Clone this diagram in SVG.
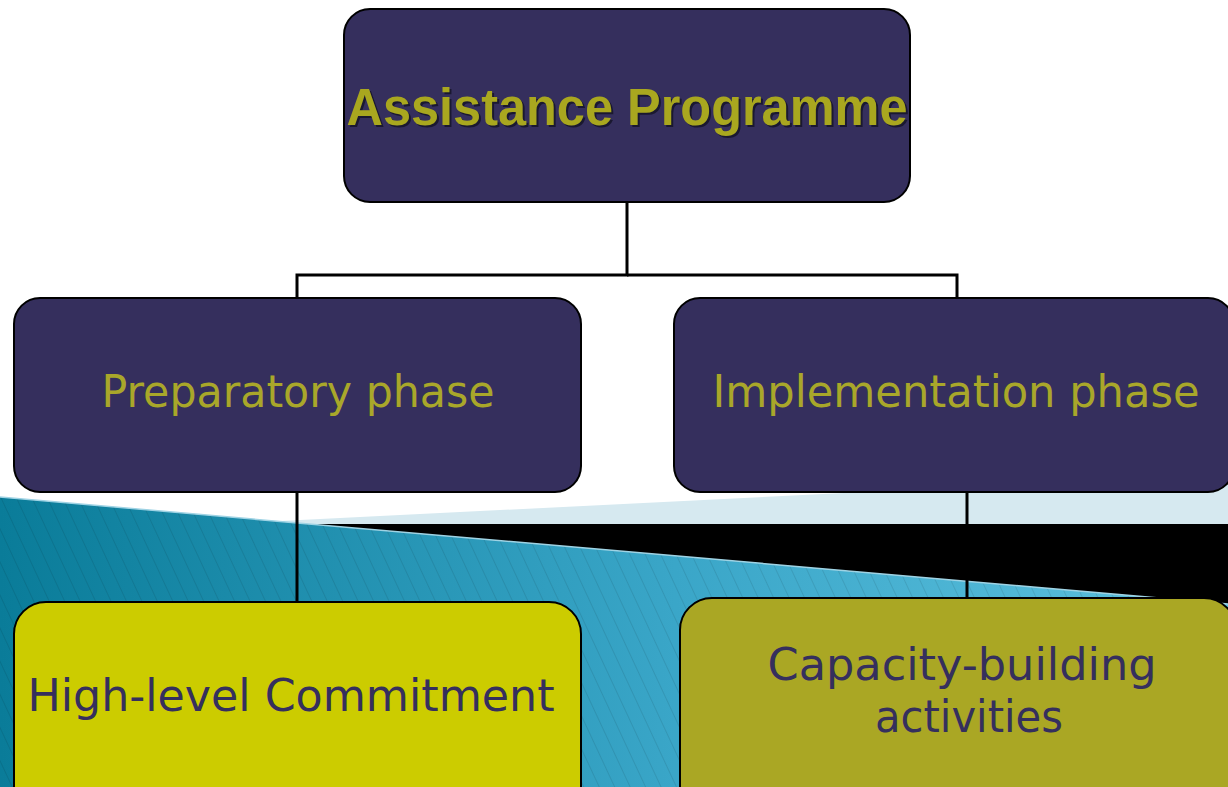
<svg xmlns="http://www.w3.org/2000/svg" width="1228" height="787" viewBox="0 0 1228 787">
<defs>
<linearGradient id="blueGrad" x1="0" y1="0" x2="1" y2="0">
<stop offset="0" stop-color="#0a7c99"/>
<stop offset="0.55" stop-color="#3aa6c8"/>
<stop offset="1" stop-color="#5ec2df"/>
</linearGradient>
<pattern id="hatch" width="14" height="14" patternUnits="userSpaceOnUse" patternTransform="rotate(-25)">
<line x1="0" y1="0" x2="0" y2="14" stroke="#000" stroke-opacity="0.12" stroke-width="1.5"/>
</pattern>
<style>
.node{stroke:#000;stroke-width:2}
.dark{fill:#352f5d}
.phase{font-family:"DejaVu Sans",Verdana,sans-serif;font-size:44px;fill:#a9a72a;text-anchor:middle}
.leaf{font-family:"DejaVu Sans",Verdana,sans-serif;font-size:44px;fill:#352f5d;text-anchor:middle}
.conn{fill:none;stroke:#000;stroke-width:3}
</style>
</defs>
<rect width="1228" height="787" fill="#ffffff"/>
<g id="background">
<polygon points="260,522 1228,474 1228,524 310,524" fill="#d6e9f0"/>
<polygon points="300,524 1228,524 1228,604" fill="#000000"/>
<polygon points="0,497 1228,604 1228,787 0,787" fill="url(#blueGrad)"/>
<polygon points="0,497 1228,604 1228,787 0,787" fill="url(#hatch)"/>
<line x1="0" y1="497" x2="1228" y2="604" stroke="#9fd3e4" stroke-width="1.5"/>
</g>
<g id="connectors">
<polyline class="conn" points="627,202 627,275 297,275 297,298"/>
<polyline class="conn" points="627,275 957,275 957,298"/>
<line class="conn" x1="297" y1="492" x2="297" y2="602"/>
<line class="conn" x1="967" y1="492" x2="967" y2="600"/>
</g>
<g id="node-assistance">
<rect class="node dark" x="344" y="9" width="566" height="193" rx="26"/>
<text x="629" y="127" font-family="'Liberation Sans',Arial,sans-serif" font-weight="bold" font-size="51" fill="#1a1830" text-anchor="middle" textLength="561" lengthAdjust="spacingAndGlyphs">Assistance Programme</text>
<text x="627" y="125" font-family="'Liberation Sans',Arial,sans-serif" font-weight="bold" font-size="51" fill="#a9a71f" text-anchor="middle" textLength="561" lengthAdjust="spacingAndGlyphs">Assistance Programme</text>
</g>
<g id="node-preparatory">
<rect class="node dark" x="14" y="298" width="567" height="194" rx="26"/>
<text class="phase" x="298" y="407" textLength="393" lengthAdjust="spacingAndGlyphs">Preparatory phase</text>
</g>
<g id="node-implementation">
<rect class="node dark" x="674" y="298" width="560" height="194" rx="26"/>
<text class="phase" x="956" y="407" textLength="487" lengthAdjust="spacingAndGlyphs">Implementation phase</text>
</g>
<g id="node-commitment">
<rect class="node" x="14" y="602" width="567" height="220" rx="32" fill="#cccc00"/>
<text class="leaf" x="291" y="711" textLength="527" lengthAdjust="spacingAndGlyphs">High-level Commitment</text>
</g>
<g id="node-capacity">
<rect class="node" x="680" y="598" width="556" height="220" rx="32" fill="#aaa724"/>
<text class="leaf" x="962" y="680" textLength="389" lengthAdjust="spacingAndGlyphs">Capacity-building</text>
<text class="leaf" x="969" y="732" textLength="188" lengthAdjust="spacingAndGlyphs">activities</text>
</g>
</svg>
